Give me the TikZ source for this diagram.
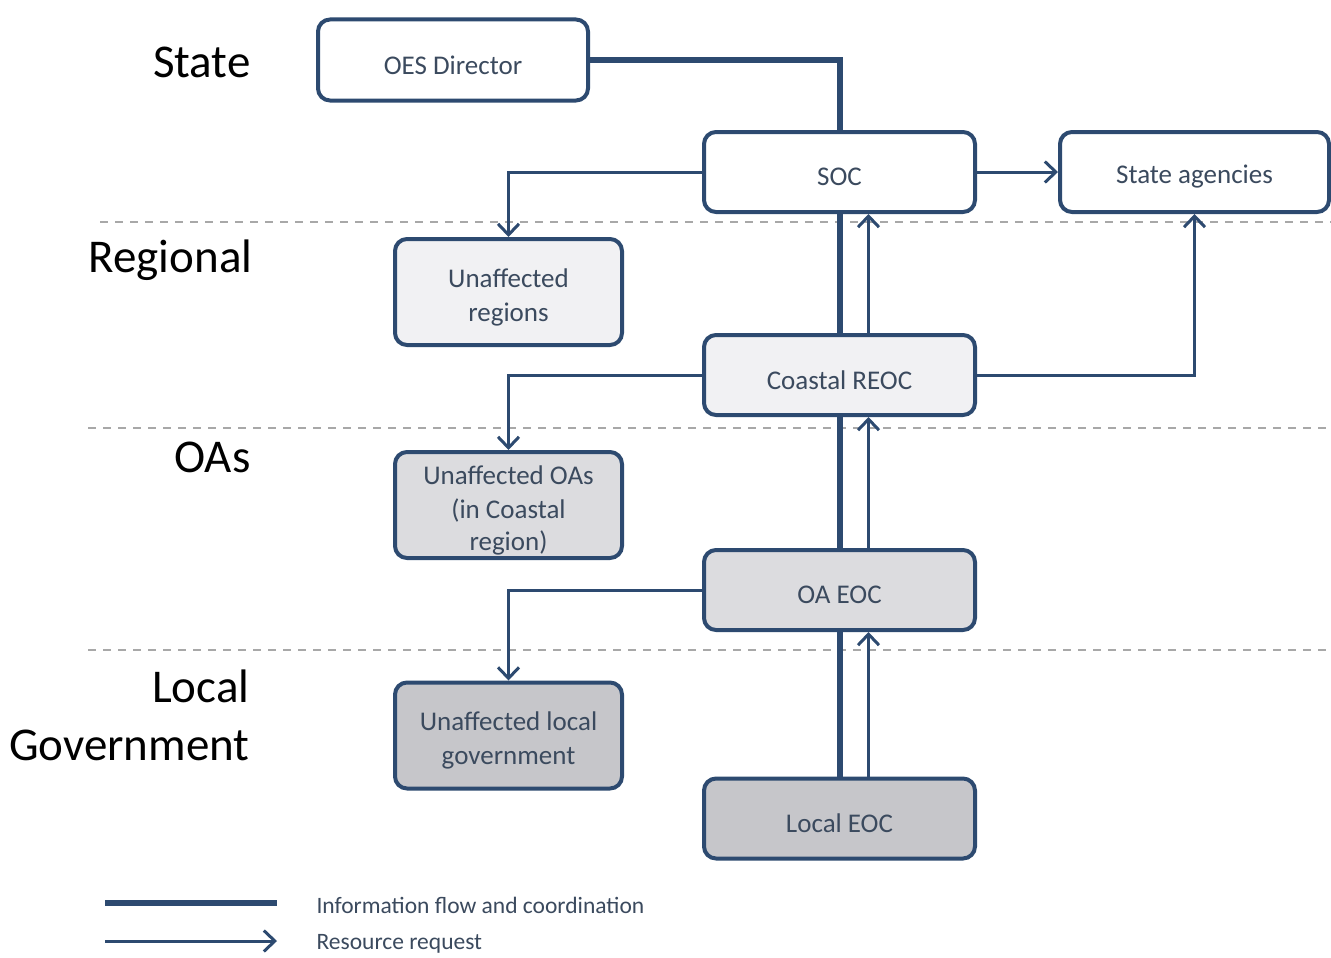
\documentclass[tikz,border=0pt]{standalone}
\usepackage{fontspec}
\setmainfont{Carlito}
\usetikzlibrary{arrows.meta}
\definecolor{edge}{HTML}{2D4A70}
\definecolor{txt}{HTML}{3B4A5E}
\definecolor{fillA}{HTML}{F1F1F3}
\definecolor{fillB}{HTML}{DCDCDF}
\definecolor{fillC}{HTML}{C6C6CA}
\definecolor{sep}{HTML}{A8A8A8}
\tikzset{
  box/.style={draw=edge, line width=4pt, rounded corners=12pt, fill=white, inner sep=0pt},
  boxtext/.style={text=txt, font=\fontsize{27}{34}\selectfont, align=center, inner sep=0pt, yshift=-5pt},
  midbox/.style={box, minimum width=271pt, minimum height=80pt},
  sidebox/.style={box, minimum width=227pt, minimum height=106pt},
  info/.style={draw=edge, line width=6pt},
  rr/.style={draw=edge, line width=3pt, -{Straight Barb[length=11pt,width=21pt,line width=3pt]}},
  tier/.style={anchor=east, align=right, text=black, font=\fontsize{47}{58}\selectfont},
  sepline/.style={draw=sep, line width=1.5pt, dash pattern=on 8pt off 7pt},
  legend/.style={anchor=west, text=txt, font=\fontsize{23.5}{27}\selectfont}
}
\begin{document}
\begin{tikzpicture}[x=1pt,y=-1pt]
\useasboundingbox[fill=white] (0,0) rectangle (1331,958);

% tier separators
\draw[sepline] (100,222) -- (1331,222);
\draw[sepline] (88,428) -- (1331,428);
\draw[sepline] (88,650) -- (1331,650);

% tier labels
\node[tier] (tstate) at (254,62) {State};
\node[tier] (treg) at (256,260) {Regional};
\node[tier] (toas) at (254,457) {OAs};
\node[tier] (tlocal) at (253,715) {Local\\Government};

% boxes
\node[box, minimum width=270pt, minimum height=81pt,
  label={[boxtext]center:OES Director}] (oes) at (453,60) {};
\node[midbox, label={[boxtext]center:SOC}] (soc) at (839.5,172) {};
\node[box, minimum width=269pt, minimum height=80pt,
  label={[boxtext]center:State agencies}] (ag) at (1194.5,172) {};
\node[sidebox, fill=fillA, label={[boxtext]center:Unaffected\\regions}] (ureg) at (508.5,292) {};
\node[midbox, fill=fillA, label={[boxtext]center:Coastal REOC}] (reoc) at (839.5,375) {};
\node[sidebox, fill=fillB, label={[boxtext]center:Unaffected OAs\\(in Coastal\\[-2pt]region)}] (uoas) at (508.5,505) {};
\node[midbox, fill=fillB, label={[boxtext]center:OA EOC}] (oa) at (839.5,590) {};
\node[sidebox, fill=fillC, label={[boxtext]center:Unaffected local\\government}] (ulg) at (508.5,735.5) {};
\node[midbox, fill=fillC, label={[boxtext]center:Local EOC}] (leoc) at (839.5,818.5) {};

% information flow and coordination
\draw[info] (oes.east) -| (soc.north);
\draw[info] (soc.south) -- (reoc.north);
\draw[info] (reoc.south) -- (oa.north);
\draw[info] (oa.south) -- (leoc.north);

% resource requests
\draw[rr] ([xshift=29pt]leoc.north) -- ([xshift=29pt]oa.south);
\draw[rr] ([xshift=29pt]oa.north) -- ([xshift=29pt]reoc.south);
\draw[rr] ([xshift=29pt]reoc.north) -- ([xshift=29pt]soc.south);
\draw[rr] (soc.east) -- (ag.west);
\draw[rr] (reoc.east) -| (ag.south);
\draw[rr] (soc.west) -| (ureg.north);
\draw[rr] (reoc.west) -| (uoas.north);
\draw[rr] (oa.west) -| (ulg.north);

% legend
\coordinate (l1a) at (105,903);
\coordinate (l1b) at (277,903);
\coordinate (l2a) at (105,941);
\coordinate (l2b) at (277,941);
\draw[info] (l1a) -- (l1b);
\draw[rr] (l2a) -- (l2b);
\node[legend] (leg1) at (313,905) {Information flow and coordination};
\node[legend] (leg2) at (313,944) {Resource request};
\end{tikzpicture}
\end{document}
